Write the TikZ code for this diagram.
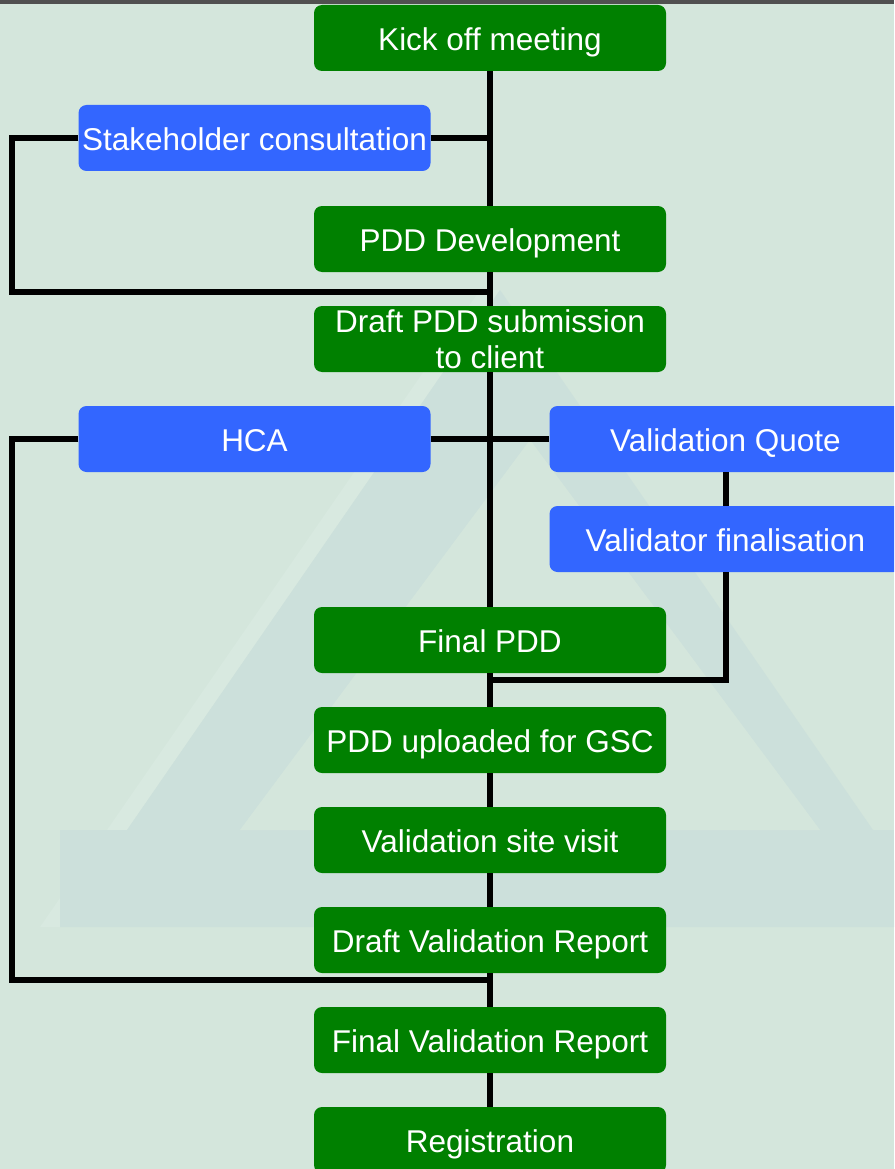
\documentclass[tikz,border=0pt]{standalone}
\usepackage{fontspec}
\setmainfont{Liberation Sans}
\definecolor{bgc}{HTML}{D4E6DC}
\definecolor{wmark}{HTML}{CCE0DB}
\definecolor{wlight}{HTML}{D8E9E0}
\definecolor{gbox}{HTML}{008000}
\definecolor{bbox}{HTML}{3366FF}
\definecolor{topbar}{HTML}{505050}
\tikzset{
  basebox/.style={rectangle, rounded corners=8pt, minimum width=352pt, minimum height=66pt,
    inner sep=0pt, text=white, font=\fontsize{31.5}{36}\selectfont, align=center},
  stepbox/.style={basebox, text height=27pt, text depth=2pt},
  greenbox/.style={stepbox, fill=gbox},
  bluebox/.style={stepbox, fill=bbox},
  link/.style={draw=black, line width=6pt}
}
\begin{document}
\begin{tikzpicture}[x=1pt,y=-1pt]
\useasboundingbox (0,0) rectangle (894,1169);
\clip (0,0) rectangle (894,1169);
\fill[bgc] (0,0) rectangle (894,1169);
% watermark
\fill[wlight] (40,927) -- (60,927) -- (500,290) -- (480,290) -- cycle;
\fill[wmark, even odd rule] (500,290) -- (940,927) -- (60,927) -- cycle
  (530,440) -- (820,830) -- (240,830) -- cycle;
\fill[wmark] (60,927) rectangle (894,830);
\fill[bgc] (240,830) -- (530,440) -- (820,830) -- cycle;
\fill[topbar] (0,0) rectangle (894,4);
% nodes
\node[greenbox] (kick) at (490,38) {Kick off meeting};
\node[bluebox] (stake) at (254.5,138) {Stakeholder consultation};
\node[greenbox] (dev) at (490,239) {PDD Development};
\node[basebox, fill=gbox] (draft) at (490,339) {Draft PDD submission\\to client};
\node[bluebox] (hca) at (254.5,439) {HCA};
\node[bluebox] (vq) at (725.5,439) {Validation Quote};
\node[bluebox] (vf) at (725.5,539) {Validator finalisation};
\node[greenbox] (final) at (490,640) {Final PDD};
\node[greenbox] (upl) at (490,740) {PDD uploaded for GSC};
\node[greenbox] (site) at (490,840) {Validation site visit};
\node[greenbox] (dvr) at (490,940) {Draft Validation Report};
\node[greenbox] (fvr) at (490,1040) {Final Validation Report};
\node[greenbox] (reg) at (490,1140) {Registration};
% junction coordinates
\coordinate (j1) at (490,292);
\coordinate (sL) at (12,292);
\coordinate (j2) at (490,980);
\coordinate (hL) at (12,980);
\coordinate (j3) at (490,680);
% connectors
\draw[link] (kick.south) -- (dev.north);
\draw[link] (dev.south) -- (draft.north);
\draw[link] (stake.east) -- (stake.east -| kick.south);
\draw[link] (stake.west) -| (sL) -- (j1);
\draw[link] (draft.south) -- (final.north);
\draw[link] (hca.east) -- (vq.west);
\draw[link] (hca.west) -| (hL) -- (j2);
\draw[link] (vq.south) -- (vf.north);
\draw[link] (vf.south) |- (j3);
\draw[link] (final.south) -- (upl.north);
\draw[link] (upl.south) -- (site.north);
\draw[link] (site.south) -- (dvr.north);
\draw[link] (dvr.south) -- (fvr.north);
\draw[link] (fvr.south) -- (reg.north);
\end{tikzpicture}
\end{document}
